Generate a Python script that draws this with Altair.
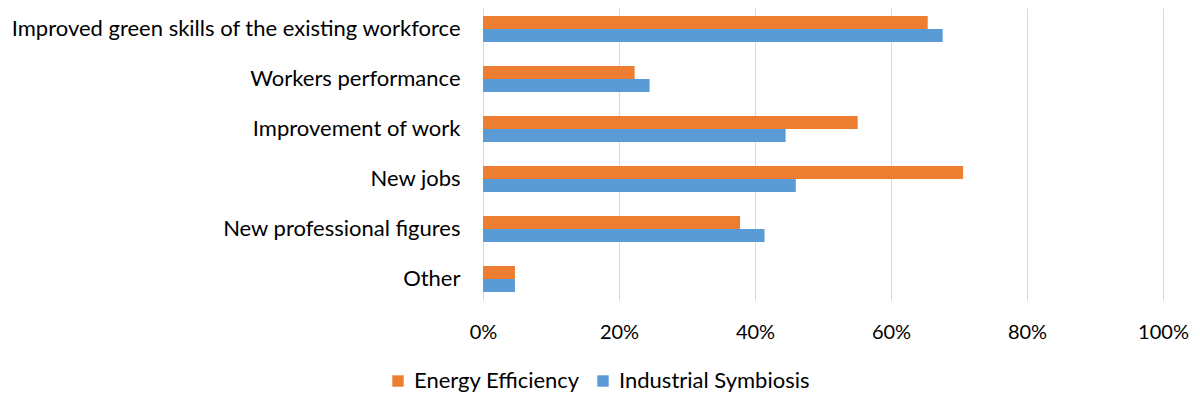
import altair as alt
import pandas as pd

categories = [
    "Improved green skills of the existing workforce",
    "Workers performance",
    "Improvement of work",
    "New jobs",
    "New professional figures",
    "Other",
]
series = ["Energy Efficiency", "Industrial Symbiosis"]
energy_efficiency = [65.4, 22.3, 55.1, 70.6, 37.8, 4.7]
industrial_symbiosis = [67.6, 24.5, 44.5, 46.0, 41.4, 4.7]
tick_values = [0, 20, 40, 60, 80, 100]
colors = ["#ED7D31", "#5B9BD5"]

rows = []
for c, a, b in zip(categories, energy_efficiency, industrial_symbiosis):
    rows.append({"category": c, "series": series[0], "value": a})
    rows.append({"category": c, "series": series[1], "value": b})
df = pd.DataFrame(rows)

FONT = "Lato"

chart = (
    alt.Chart(df)
    .mark_bar()
    .encode(
        y=alt.Y(
            "category:N",
            sort=categories,
            title=None,
            scale=alt.Scale(paddingInner=0.48, paddingOuter=0.16),
            axis=alt.Axis(
                ticks=False,
                domain=True,
                domainColor="#d9d9d9",
                labelPadding=23,
                labelFontSize=22,
                labelFont=FONT,
                labelColor="#000000",
                labelLimit=600,
                grid=False,
            ),
        ),
        yOffset=alt.YOffset("series:N", sort=series),
        x=alt.X(
            "value:Q",
            title=None,
            scale=alt.Scale(domain=[0, 100]),
            axis=alt.Axis(
                values=tick_values,
                labelExpr="datum.value + '%'",
                labelFlush=False,
                ticks=False,
                domain=False,
                grid=True,
                gridColor="#d9d9d9",
                labelPadding=22,
                labelFontSize=20,
                labelFont=FONT,
                labelColor="#000000",
            ),
        ),
        color=alt.Color(
            "series:N",
            sort=series,
            scale=alt.Scale(domain=series, range=colors),
            legend=alt.Legend(
                title=None,
                orient="none",
                direction="horizontal",
                legendX=-96,
                legendY=362,
                symbolType="square",
                symbolSize=130,
                symbolStrokeWidth=0,
                labelFontSize=22,
                labelFont=FONT,
                labelColor="#000000",
                labelOffset=5,
                labelLimit=400,
                columnPadding=12,
            ),
        ),
    )
    .properties(
        width=680,
        height=292,
        autosize=alt.AutoSizeParams(type="none"),
        padding={"left": 475, "top": 0, "right": 29, "bottom": 95},
    )
    .configure_view(stroke=None)
)

chart.save("out.html", embed_options={"renderer": "svg", "actions": False})
